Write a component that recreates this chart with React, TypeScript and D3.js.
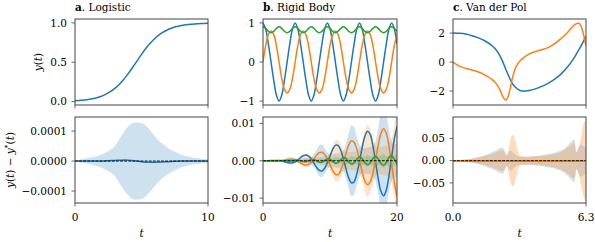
import React from 'react';
import * as d3 from 'd3';

const FONT = "'DejaVu Serif', 'Liberation Serif', serif";
const FS = 10.5;
const BLUE = '#1f77b4';
const ORANGE = '#ff7f0e';
const GREEN = '#2ca02c';
const SPINE = '#444';

// ---- a. Logistic ----
const logT = [0, 0.5, 1, 1.5, 2, 2.5, 3, 3.5, 4, 4.5, 5, 5.5, 6, 6.5, 7, 7.5, 8, 8.5, 9, 9.5, 10];
const logY = [0.01, 0.016, 0.027, 0.043, 0.069, 0.11, 0.169, 0.25, 0.356, 0.476, 0.6, 0.712, 0.803, 0.87, 0.917, 0.948, 0.968, 0.98, 0.988, 0.993, 0.996];
const logErr = [0, 0, 0, 0, 0, 0.000001, 0.000002, 0.000003, 0.000003, 0.000001, -0.000002, -0.000004, -0.000004, -0.000003, -0.000002, -0.000001, 0, 0, 0, 0, 0];
const logBand = [0, 0.000006, 0.00001, 0.000015, 0.000022, 0.000033, 0.00005, 0.000085, 0.000115, 0.000129, 0.000127, 0.00011, 0.000083, 0.00006, 0.000043, 0.000031, 0.000021, 0.000015, 0.000011, 0.000008, 0.000006];

// ---- b. Rigid Body ----
const rbT = [0, 0.4, 0.8, 1.2, 1.6, 2, 2.4, 2.8, 3.2, 3.6, 4, 4.4, 4.8, 5.2, 5.6, 6, 6.4, 6.8, 7.2, 7.6, 8, 8.4, 8.8, 9.2, 9.6, 10, 10.4, 10.8, 11.2, 11.6, 12, 12.4, 12.8, 13.2, 13.6, 14, 14.4, 14.8, 15.2, 15.6, 16, 16.4, 16.8, 17.2, 17.6, 18, 18.4, 18.8, 19.2, 19.6, 20];
const rbY1 = [
  1, 0.845, 0.465, 0, -0.465, -0.845, -1, -0.845, -0.465, 0, 0.465, 0.845,
  1, 0.845, 0.465, 0, -0.465, -0.845, -1, -0.845, -0.465, 0, 0.465, 0.845,
  1, 0.845, 0.465, 0, -0.465, -0.845, -1, -0.845, -0.465, 0, 0.465, 0.845,
  1, 0.845, 0.465, 0, -0.465, -0.845, -1, -0.845, -0.465, 0, 0.465, 0.845,
  1, 0.845, 0.465];
const rbY2 = [
  0, 0.422, 0.699, 0.79, 0.699, 0.422, 0, -0.422, -0.699, -0.79, -0.699, -0.422,
  0, 0.422, 0.699, 0.79, 0.699, 0.422, 0, -0.422, -0.699, -0.79, -0.699, -0.422,
  0, 0.422, 0.699, 0.79, 0.699, 0.422, 0, -0.422, -0.699, -0.79, -0.699, -0.422,
  0, 0.422, 0.699, 0.79, 0.699, 0.422, 0, -0.422, -0.699, -0.79, -0.699, -0.422,
  0, 0.422, 0.699];
const rbY3 = [
  0.9, 0.859, 0.784, 0.748, 0.784, 0.859, 0.9, 0.859, 0.784, 0.748, 0.784, 0.859,
  0.9, 0.859, 0.784, 0.748, 0.784, 0.859, 0.9, 0.859, 0.784, 0.748, 0.784, 0.859,
  0.9, 0.859, 0.784, 0.748, 0.784, 0.859, 0.9, 0.859, 0.784, 0.748, 0.784, 0.859,
  0.9, 0.859, 0.784, 0.748, 0.784, 0.859, 0.9, 0.859, 0.784, 0.748, 0.784, 0.859,
  0.9, 0.859, 0.784];
const rbErr1 = [0, 0, 0.000024, 0.000055, 0.000079, 0.000079, 0.000072, -0.00005, -0.00026, -0.00047, -0.00059, -0.00056, -0.00027, 0.00025, 0.00086, 0.00135, 0.00154, 0.00125, 0.00046, -0.00065, -0.00178, -0.00259, -0.00272, -0.00202, -0.00056, 0.0013, 0.00305, 0.00412, 0.00409, 0.0028, 0.0005, -0.00224, -0.00465, -0.00595, -0.00561, -0.00354, -0.00023, 0.00349, 0.00651, 0.00788, 0.00705, 0.00405, -0.0003, -0.00481, -0.00818, -0.00938, -0.00783, -0.00403, 0.00098, 0.00581, 0.00912];
const rbErr2 = [0, 0, -0.000012, -0.000028, -0.00004, -0.000039, -0.000043, 0.000032, 0.00017, 0.00031, 0.00039, 0.00039, 0.00019, -0.00018, -0.00061, -0.00097, -0.00116, -0.00097, -0.00037, 0.00053, 0.00148, 0.00216, 0.00227, 0.00168, 0.00047, -0.00108, -0.00262, -0.00365, -0.0037, -0.00259, -0.00047, 0.00207, 0.00424, 0.00535, 0.00498, 0.00311, 0.0002, -0.00295, -0.00541, -0.00644, -0.00568, -0.00336, 0.00026, 0.0042, 0.00732, 0.00858, 0.00737, 0.0039, -0.00097, -0.00591, -0.00949];
const rbErr3 = [0, 0.00001, 0.00001, -0.00002, -0.00004, -0.00001, 0.00004, 0.00007, 0.00001, -0.00007, -0.00009, -0.00001, 0.00013, 0.00017, 0.00001, -0.00022, -0.00024, 0.00001, 0.0003, 0.00031, -0.00004, -0.00041, -0.00038, 0.00009, 0.00053, 0.00044, -0.00015, -0.00066, -0.0005, 0.00022, 0.00078, 0.00054, -0.00031, -0.00088, -0.00055, 0.0004, 0.00098, 0.00054, -0.0005, -0.00107, -0.00053, 0.00061, 0.00116, 0.0005, -0.00072, -0.00124, -0.00046, 0.00085, 0.00131, 0.00041, -0.00098];
const rbBand1 = [0, 0.00001, 0.000018, 0.000027, 0.000036, 0.000045, 0.0001, 0.0002, 0.00044, 0.00075, 0.00094, 0.00092, 0.0007, 0.00056, 0.00056, 0.00063, 0.00072, 0.00082, 0.00103, 0.00168, 0.0029, 0.00413, 0.00434, 0.0034, 0.00228, 0.00176, 0.00175, 0.00187, 0.002, 0.00217, 0.00278, 0.00459, 0.00746, 0.00952, 0.00895, 0.00642, 0.00421, 0.0034, 0.0034, 0.00355, 0.00369, 0.00397, 0.00529, 0.00869, 0.01305, 0.01501, 0.01256, 0.00828, 0.00537, 0.00451, 0.00446];
const rbBand2 = [0, 0.000006, 0.00002, 0.00004, 0.00006, 0.00006, 0.00009, 0.0001, 0.00012, 0.00015, 0.00018, 0.00024, 0.00032, 0.00053, 0.00096, 0.00145, 0.00174, 0.00153, 0.00111, 0.00089, 0.0009, 0.00099, 0.00108, 0.00119, 0.00147, 0.00234, 0.004, 0.00547, 0.00555, 0.00428, 0.00293, 0.00234, 0.00232, 0.00241, 0.00251, 0.00269, 0.00339, 0.00537, 0.00814, 0.00966, 0.00855, 0.00613, 0.0042, 0.00361, 0.00369, 0.00387, 0.00403, 0.00442, 0.00601, 0.00977, 0.01421];
const rbBand3 = [0, 0.000015, 0.000017, 0.000037, 0.000059, 0.00004, 0.000076, 0.0001, 0.00006, 0.00012, 0.00014, 0.00009, 0.00021, 0.00027, 0.00014, 0.00034, 0.00039, 0.00019, 0.00048, 0.0005, 0.00028, 0.00063, 0.00063, 0.00039, 0.00081, 0.00076, 0.00052, 0.001, 0.00088, 0.00066, 0.00119, 0.00098, 0.00079, 0.00133, 0.00104, 0.00093, 0.00147, 0.00109, 0.00108, 0.00161, 0.00113, 0.00123, 0.00174, 0.00116, 0.00138, 0.00187, 0.00118, 0.00155, 0.00199, 0.00119, 0.00172];

// ---- c. Van der Pol ----
const vdpT = [0, 0.3, 0.6, 0.9, 1.2, 1.5, 1.8, 2.0, 2.2, 2.35, 2.5, 2.65, 2.8, 2.95, 3.1, 3.3, 3.6, 3.9, 4.2, 4.5, 4.8, 5.1, 5.4, 5.6, 5.8, 5.95, 6.1, 6.2, 6.3];
const vdpY1 = [2.0, 1.98, 1.93, 1.82, 1.67, 1.47, 1.18, 0.92, 0.5, 0.05, -0.5, -1.0, -1.45, -1.72, -1.9, -2.0, -1.96, -1.85, -1.68, -1.47, -1.2, -0.85, -0.38, 0.0, 0.45, 0.82, 1.2, 1.5, 1.75];
const vdpY2 = [0, -0.28, -0.43, -0.55, -0.68, -0.88, -1.15, -1.4, -1.85, -2.35, -2.62, -2.2, -1.2, -0.45, -0.05, 0.25, 0.55, 0.72, 0.85, 1.0, 1.25, 1.6, 2.0, 2.35, 2.62, 2.68, 2.35, 1.8, 1.1];
const vdpErrT = [0, 0.4, 0.8, 1.2, 1.6, 1.9, 2.1, 2.25, 2.35, 2.45, 2.55, 2.65, 2.75, 2.85, 2.95, 3.05, 3.2, 3.5, 4.0, 4.5, 5.0, 5.3, 5.5, 5.65, 5.75, 5.85, 5.95, 6.05, 6.15, 6.25, 6.3];
const vdpErr1 = [0, 0, 0, 0, 0, 0, 0, 0, 0, 0, 0, 0, 0, 0, 0, 0, 0, 0, 0, 0, 0, 0, 0, 0, 0, 0, 0, 0, 0, 0, 0];
const vdpErr2 = [0, 0, 0, 0, 0, 0, 0, 0, 0, 0, 0, 0, 0, 0, 0, 0, 0, 0, 0, 0, 0, 0, 0, 0, 0, 0, 0, 0, 0, 0, 0];
const vdpBand1 = [0, 0.002, 0.004, 0.008, 0.014, 0.02, 0.025, 0.029, 0.03, 0.022, 0.012, 0.02, 0.022, 0.018, 0.014, 0.011, 0.009, 0.009, 0.011, 0.015, 0.021, 0.028, 0.038, 0.046, 0.048, 0.02, 0.03, 0.036, 0.034, 0.03, 0.028];
const vdpBand2 = [0, 0.0015, 0.0035, 0.007, 0.012, 0.016, 0.02, 0.023, 0.024, 0.018, 0.012, 0.03, 0.052, 0.058, 0.045, 0.025, 0.011, 0.009, 0.01, 0.013, 0.018, 0.025, 0.032, 0.038, 0.04, 0.018, 0.03, 0.05, 0.075, 0.088, 0.088];

interface Line { x: number[]; y: number[]; color: string; }
interface Band { x: number[]; w: number[]; color: string; opacity?: number; }

interface AxesProps {
  id: string;
  left: number; top: number; width: number; height: number;
  xDomain: [number, number]; yDomain: [number, number];
  xTicks: number[]; xLabels?: string[];
  yTicks: number[]; yLabels: string[];
  lines: Line[]; bands?: Band[]; zero?: boolean;
  curve: d3.CurveFactory;
}

const Axes: React.FC<AxesProps> = ({ id, left, top, width, height, xDomain, yDomain, xTicks, xLabels, yTicks, yLabels, lines, bands = [], zero = false, curve }) => {
  const xs = d3.scaleLinear().domain(xDomain).range([left, left + width]);
  const ys = d3.scaleLinear().domain(yDomain).range([top + height, top]);
  const bottom = top + height;

  const lineGen = (l: Line) =>
    d3.line<number>().x((_, i) => xs(l.x[i])).y(d => ys(d)).curve(curve)(l.y) || '';
  const areaGen = (b: Band) =>
    d3.area<number>().x((_, i) => xs(b.x[i])).y0(d => ys(-d)).y1(d => ys(d)).curve(d3.curveMonotoneX)(b.w) || '';

  return (
    <g>
      <defs>
        <clipPath id={id}>
          <rect x={left} y={top} width={width} height={height} />
        </clipPath>
      </defs>
      <g clipPath={`url(#${id})`}>
        {bands.map((b, i) => (
          <path key={'b' + i} d={areaGen(b)} fill={b.color} fillOpacity={b.opacity ?? 0.22} stroke="none" />
        ))}
        {lines.map((l, i) => (
          <path key={'l' + i} d={lineGen(l)} fill="none" stroke={l.color} strokeWidth={1.5} />
        ))}
        {zero && (
          <line x1={left} x2={left + width} y1={ys(0)} y2={ys(0)} stroke="#000" strokeWidth={0.9} strokeDasharray="2.8 1.3" />
        )}
      </g>
      <rect x={left} y={top} width={width} height={height} fill="none" stroke={SPINE} strokeWidth={1} />
      {xTicks.map((t, i) => (
        <g key={'xt' + i}>
          <line x1={xs(t)} x2={xs(t)} y1={bottom} y2={bottom + 3.5} stroke={SPINE} strokeWidth={0.8} />
          {xLabels && (
            <text x={xs(t)} y={bottom + 17.5} textAnchor="middle" fontFamily={FONT} fontSize={FS}>{xLabels[i]}</text>
          )}
        </g>
      ))}
      {yTicks.map((t, i) => (
        <g key={'yt' + i}>
          <line x1={left - 3.5} x2={left} y1={ys(t)} y2={ys(t)} stroke={SPINE} strokeWidth={0.8} />
          <text x={left - 8} y={ys(t)} dy="0.36em" textAnchor="end" fontFamily={FONT} fontSize={FS}>{yLabels[i]}</text>
        </g>
      ))}
    </g>
  );
};

const Title: React.FC<{ x: number; letter: string; name: string }> = ({ x, letter, name }) => (
  <text x={x} y={10.7} fontFamily={FONT} fontSize={FS}>
    <tspan fontWeight="bold">{letter}</tspan>. {name}
  </text>
);

const TLabel: React.FC<{ x: number }> = ({ x }) => (
  <text x={x} y={237} textAnchor="middle" fontFamily={FONT} fontSize={FS} fontStyle="italic">t</text>
);

const App: React.FC = () => {
  const top = 19, h = 86, top2 = 117;
  const A = { left: 75, width: 133 };
  const B = { left: 263, width: 134 };
  const C = { left: 453, width: 133 };
  const cr = d3.curveCatmullRom;

  return (
    <svg width={595} height={242} style={{ position: 'absolute', left: 0, top: 0, background: '#fff' }}>
      <Title x={A.left} letter="a" name="Logistic" />
      <Title x={B.left} letter="b" name="Rigid Body" />
      <Title x={C.left} letter="c" name="Van der Pol" />

      {/* top row */}
      <Axes id="ca1" left={A.left} top={top} width={A.width} height={h}
        xDomain={[0, 10]} yDomain={[-0.043, 1.05]} xTicks={[0, 10]}
        yTicks={[0, 0.5, 1]} yLabels={['0.0', '0.5', '1.0']}
        lines={[{ x: logT, y: logY, color: BLUE }]} curve={cr} />
      <Axes id="cb1" left={B.left} top={top} width={B.width} height={h}
        xDomain={[0, 20]} yDomain={[-1.1, 1.1]} xTicks={[0, 20]}
        yTicks={[-1, 0, 1]} yLabels={['\u22121', '0', '1']}
        lines={[
          { x: rbT, y: rbY1, color: BLUE },
          { x: rbT, y: rbY2, color: ORANGE },
          { x: rbT, y: rbY3, color: GREEN },
        ]} curve={cr} />
      <Axes id="cc1" left={C.left} top={top} width={C.width} height={h}
        xDomain={[0, 6.3]} yDomain={[-2.96, 2.97]} xTicks={[0, 6.3]}
        yTicks={[-2, 0, 2]} yLabels={['\u22122', '0', '2']}
        lines={[
          { x: vdpT, y: vdpY1, color: BLUE },
          { x: vdpT, y: vdpY2, color: ORANGE },
        ]} curve={d3.curveMonotoneX} />

      {/* bottom row */}
      <Axes id="ca2" left={A.left} top={top2} width={A.width} height={h}
        xDomain={[0, 10]} yDomain={[-0.00014, 0.000147]} xTicks={[0, 10]} xLabels={['0', '10']}
        yTicks={[-0.0001, 0, 0.0001]} yLabels={['\u22120.0001', '0.0000', '0.0001']}
        bands={[{ x: logT, w: logBand, color: BLUE }]}
        lines={[{ x: logT, y: logErr, color: BLUE }]} zero curve={cr} />
      <Axes id="cb2" left={B.left} top={top2} width={B.width} height={h}
        xDomain={[0, 20]} yDomain={[-0.0113, 0.0117]} xTicks={[0, 20]} xLabels={['0', '20']}
        yTicks={[-0.01, 0, 0.01]} yLabels={['\u22120.01', '0.00', '0.01']}
        bands={[
          { x: rbT, w: rbBand1, color: BLUE },
          { x: rbT, w: rbBand2, color: ORANGE },
          { x: rbT, w: rbBand3, color: GREEN },
        ]}
        lines={[
          { x: rbT, y: rbErr1, color: BLUE },
          { x: rbT, y: rbErr2, color: ORANGE },
          { x: rbT, y: rbErr3, color: GREEN },
        ]} zero curve={cr} />
      <Axes id="cc2" left={C.left} top={top2} width={C.width} height={h}
        xDomain={[0, 6.3]} yDomain={[-0.095, 0.098]} xTicks={[0, 6.3]} xLabels={['0.0', '6.3']}
        yTicks={[-0.05, 0, 0.05]} yLabels={['\u22120.05', '0.00', '0.05']}
        bands={[
          { x: vdpErrT, w: vdpBand1, color: BLUE, opacity: 0.2 },
          { x: vdpErrT, w: vdpBand2, color: ORANGE, opacity: 0.28 },
        ]}
        lines={[
          { x: vdpErrT, y: vdpErr1, color: BLUE },
          { x: vdpErrT, y: vdpErr2, color: ORANGE },
        ]} zero curve={d3.curveMonotoneX} />

      {/* axis labels */}
      <text transform="translate(42,62) rotate(-90)" textAnchor="middle" fontFamily={FONT} fontSize={FS}>
        <tspan fontStyle="italic">y</tspan>(<tspan fontStyle="italic">t</tspan>)
      </text>
      <text transform="translate(14,160) rotate(-90)" textAnchor="middle" fontFamily={FONT} fontSize={FS}>
        <tspan fontStyle="italic">y</tspan>(<tspan fontStyle="italic">t</tspan>) {'\u2212'} <tspan fontStyle="italic">y</tspan>
        <tspan dy={-4} fontSize={7.5}>*</tspan><tspan dy={4}>(</tspan><tspan fontStyle="italic">t</tspan>)
      </text>
      <TLabel x={A.left + A.width / 2} />
      <TLabel x={B.left + B.width / 2} />
      <TLabel x={C.left + C.width / 2} />
    </svg>
  );
};

export default App;
